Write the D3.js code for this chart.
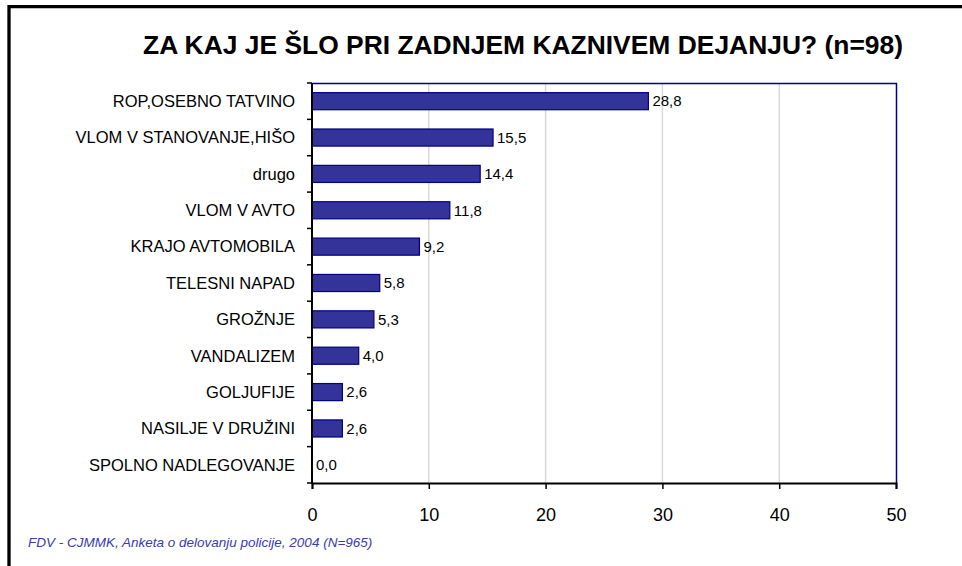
<!DOCTYPE html>
<html lang="sl">
<head>
<meta charset="utf-8">
<title>Za kaj je šlo pri zadnjem kaznivem dejanju</title>
<script src="https://cdn.jsdelivr.net/npm/d3@7"></script>
<style>
  body { margin: 0; background: #fff; }
  svg { display: block; font-family: "Liberation Sans", Arial, sans-serif; }
  .grid line { stroke: #d9d9d9; stroke-width: 1.5px; }
  .bar { fill: #333399; stroke: #000080; stroke-width: 1.2px; }
</style>
</head>
<body>
<div id="chart"></div>
<script>
var categories = ["ROP,OSEBNO TATVINO", "VLOM V STANOVANJE,HIŠO", "drugo", "VLOM V AVTO",
  "KRAJO AVTOMOBILA", "TELESNI NAPAD", "GROŽNJE", "VANDALIZEM", "GOLJUFIJE",
  "NASILJE V DRUŽINI", "SPOLNO NADLEGOVANJE"];
var values = [28.8, 15.5, 14.4, 11.8, 9.2, 5.8, 5.3, 4.0, 2.6, 2.6, 0.0];
var xTicks = [0, 10, 20, 30, 40, 50];

var width = 962, height = 566;
var plotL = 312, plotR = 896, plotT = 83, plotB = 483;

var svg = d3.select("#chart").append("svg")
    .attr("width", width)
    .attr("height", height);

// slide frame (only top and left edges visible)
svg.append("path")
    .attr("d", "M9,566 V6.7 H962")
    .attr("fill", "none")
    .attr("stroke", "#000")
    .attr("stroke-width", 3.3);

svg.append("text")
    .attr("x", 523)
    .attr("y", 54)
    .attr("text-anchor", "middle")
    .attr("font-size", 26)
    .attr("font-weight", "bold")
    .attr("textLength", 760)
    .attr("lengthAdjust", "spacingAndGlyphs")
    .text("ZA KAJ JE ŠLO PRI ZADNJEM KAZNIVEM DEJANJU? (n=98)");

var x = d3.scaleLinear().domain([0, 50]).range([plotL, plotR]);
var y = d3.scaleBand().domain(categories).range([plotT, plotB]).paddingInner(0.53).paddingOuter(0.265);

// grid
svg.append("g").attr("class", "grid")
  .selectAll("line")
  .data(xTicks.slice(1, -1))
  .enter().append("line")
    .attr("x1", function(d) { return x(d); })
    .attr("x2", function(d) { return x(d); })
    .attr("y1", plotT)
    .attr("y2", plotB);

// top and right frame of plot area
svg.append("path")
    .attr("d", "M" + plotL + "," + (plotT + 0.5) + " H" + (plotR + 0.5) + " V" + plotB)
    .attr("fill", "none")
    .attr("stroke", "#000080")
    .attr("stroke-width", 1.5);

// bars
svg.selectAll(".bar")
    .data(values)
  .enter().append("rect")
    .attr("class", "bar")
    .attr("x", x(0))
    .attr("y", function(d, i) { return y(categories[i]); })
    .attr("width", function(d) { return x(d) - x(0); })
    .attr("height", y.bandwidth())
    .style("display", function(d) { return d > 0 ? null : "none"; });

// value labels
svg.selectAll(".val")
    .data(values)
  .enter().append("text")
    .attr("class", "val")
    .attr("x", function(d) { return x(d) + 4; })
    .attr("y", function(d, i) { return y(categories[i]) + y.bandwidth() / 2; })
    .attr("dy", "0.35em")
    .attr("font-size", 15)
    .text(function(d) { return d.toFixed(1).replace(".", ","); });

// x axis
var xAxis = svg.append("g")
    .attr("transform", "translate(0," + plotB + ")")
    .call(d3.axisBottom(x).tickValues(xTicks).tickSize(6).tickPadding(19).tickFormat(d3.format("d")));
xAxis.select(".domain").attr("stroke", "#000").attr("stroke-width", 2);
xAxis.selectAll(".tick line").attr("stroke", "#000").attr("stroke-width", 1.5);
xAxis.selectAll("text").attr("font-size", 18).attr("font-family", "Liberation Sans, Arial, sans-serif").attr("fill", "#000");

// y axis: ticks at category boundaries
var yAxis = svg.append("g")
    .attr("transform", "translate(" + plotL + ",0)");
yAxis.append("line")
    .attr("y1", plotT).attr("y2", plotB + 1)
    .attr("stroke", "#000").attr("stroke-width", 2);
yAxis.selectAll(".yt")
    .data(d3.range(categories.length + 1))
  .enter().append("line")
    .attr("x1", -5).attr("x2", 0)
    .attr("y1", function(i) { return plotT + i * y.step(); })
    .attr("y2", function(i) { return plotT + i * y.step(); })
    .attr("stroke", "#000").attr("stroke-width", 1.5);
yAxis.selectAll(".cat")
    .data(categories)
  .enter().append("text")
    .attr("x", -17)
    .attr("y", function(d) { return y(d) + y.bandwidth() / 2; })
    .attr("dy", "0.35em")
    .attr("text-anchor", "end")
    .attr("font-size", 16.5)
    .text(function(d) { return d; });

// source
svg.append("text")
    .attr("x", 28)
    .attr("y", 547)
    .attr("font-size", 13.5)
    .attr("font-style", "italic")
    .attr("fill", "#3a3ab0")
    .text("FDV - CJMMK, Anketa o delovanju policije, 2004 (N=965)");
</script>
</body>
</html>
